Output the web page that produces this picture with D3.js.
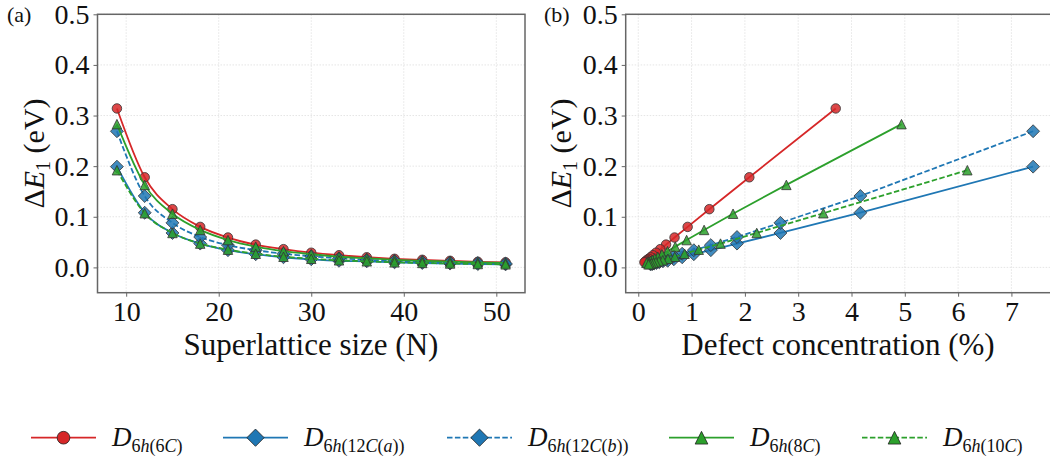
<!DOCTYPE html>
<html>
<head>
<meta charset="utf-8">
<script src="https://cdn.jsdelivr.net/npm/d3@7"></script>
<style>
  body { margin: 0; background: #fff; }
  svg { display: block; overflow: hidden; }
  svg text { font-family: "Liberation Serif", "Times New Roman", Times, "DejaVu Serif", serif; }
  .tick text { font-size: 28px; fill: #111; }
  .axis path, .axis line { stroke: #666; }
</style>
</head>
<body>
<div id="chart"></div>
<script>
// superlattice sizes
var sizes = [9, 12, 15, 18, 21, 24, 27, 30, 33, 36, 39, 42, 45, 48, 51];

// defect concentrations (%) per series
var conc6C  = [3.704, 2.083, 1.333, 0.926, 0.680, 0.521, 0.412, 0.333, 0.275, 0.231, 0.197, 0.170, 0.148, 0.130, 0.115];
var conc12C = [7.407, 4.167, 2.667, 1.852, 1.361, 1.042, 0.823, 0.667, 0.551, 0.463, 0.394, 0.340, 0.296, 0.260, 0.231];
var conc8C  = [4.938, 2.778, 1.778, 1.235, 0.907, 0.694, 0.549, 0.444, 0.367, 0.309, 0.263, 0.227, 0.198, 0.174, 0.154];
var conc10C = [6.173, 3.472, 2.222, 1.543, 1.134, 0.868, 0.686, 0.556, 0.459, 0.386, 0.329, 0.283, 0.247, 0.217, 0.192];

// Delta E1 (eV)
var dE6C   = [0.314, 0.178, 0.115, 0.080, 0.059, 0.045, 0.036, 0.029, 0.024, 0.020, 0.017, 0.015, 0.013, 0.011, 0.010];
var dE12Ca = [0.199, 0.108, 0.068, 0.047, 0.034, 0.026, 0.020, 0.016, 0.013, 0.012, 0.010, 0.0087, 0.0075, 0.0066, 0.0059];
var dE12Cb = [0.269, 0.141, 0.088, 0.060, 0.044, 0.034, 0.027, 0.022, 0.018, 0.015, 0.013, 0.011, 0.0097, 0.0086, 0.0076];
var dE8C   = [0.283, 0.163, 0.106, 0.074, 0.054, 0.041, 0.032, 0.026, 0.021, 0.018, 0.015, 0.013, 0.0115, 0.010, 0.009];
var dE10C  = [0.192, 0.107, 0.068, 0.047, 0.035, 0.027, 0.021, 0.017, 0.014, 0.012, 0.010, 0.0088, 0.0077, 0.0067, 0.006];

var xTicksA = [10, 20, 30, 40, 50];
var xTicksB = [0, 1, 2, 3, 4, 5, 6, 7];
var yTicks = [0, 0.1, 0.2, 0.3, 0.4, 0.5];

// label parts: [text, italic]
var series = [
  {sub: [["6", 0], ["h", 1], ["(6", 0], ["C", 1], [")", 0]], color: "#d62728", dash: null, mark: "o", conc: conc6C, dE: dE6C},
  {sub: [["6", 0], ["h", 1], ["(12", 0], ["C", 1], ["(", 0], ["a", 1], ["))", 0]], color: "#1f77b4", dash: null, mark: "D", conc: conc12C, dE: dE12Ca},
  {sub: [["6", 0], ["h", 1], ["(12", 0], ["C", 1], ["(", 0], ["b", 1], ["))", 0]], color: "#1f77b4", dash: "5.5,2.4", mark: "D", conc: conc12C, dE: dE12Cb},
  {sub: [["6", 0], ["h", 1], ["(8", 0], ["C", 1], [")", 0]], color: "#2ca02c", dash: null, mark: "^", conc: conc8C, dE: dE8C},
  {sub: [["6", 0], ["h", 1], ["(10", 0], ["C", 1], [")", 0]], color: "#2ca02c", dash: "5.5,2.4", mark: "^", conc: conc10C, dE: dE10C}
];

const width = 1050, height = 460;
const plotTop = 14.3, plotBottom = 292.7;

function markerPath(type, ms) {
  var h = ms / 2;
  if (type == "o") return d3.symbol(d3.symbolCircle, Math.PI * h * h)();
  if (type == "D") { var d = ms * 0.68; return `M0,${-d}L${d},0L0,${d}L${-d},0Z`; }
  return `M0,${-h}L${h},${h}L${-h},${h}Z`;
}

const svg = d3.select("#chart").append("svg")
  .attr("width", width)
  .attr("height", height);

var y = d3.scaleLinear().domain([-0.05, 0.5]).range([plotBottom, plotTop]);

function panel(opts) {
  var x = d3.scaleLinear().domain(opts.xDomain).range([opts.left, opts.right]);
  var g = svg.append("g");

  // grid
  g.append("g").selectAll("line").data(opts.xTicks).enter().append("line")
    .attr("x1", d => x(d)).attr("x2", d => x(d)).attr("y1", plotTop).attr("y2", plotBottom)
    .attr("stroke", "#dedede").attr("stroke-width", 0.8).attr("stroke-dasharray", "1.5,1.5");
  g.append("g").selectAll("line").data(yTicks).enter().append("line")
    .attr("x1", opts.left).attr("x2", opts.right).attr("y1", d => y(d)).attr("y2", d => y(d))
    .attr("stroke", "#dedede").attr("stroke-width", 0.8).attr("stroke-dasharray", "1.5,1.5");

  // lines + markers
  series.forEach((s) => {
    var pts = s.dE.map((v, i) => [opts.xVal(s, i), v]);
    var line = d3.line().x(d => x(d[0])).y(d => y(d[1])).curve(opts.curve);
    g.append("path")
      .attr("d", line(pts))
      .attr("fill", "none")
      .attr("stroke", s.color)
      .attr("stroke-width", 1.8)
      .attr("stroke-dasharray", s.dash);
    g.append("g").selectAll("path").data(pts).enter().append("path")
      .attr("d", markerPath(s.mark, 9.5))
      .attr("transform", d => `translate(${x(d[0])},${y(d[1])})`)
      .attr("fill", s.color)
      .attr("fill-opacity", 0.85)
      .attr("stroke", "#333")
      .attr("stroke-width", 0.8);
  });

  // frame
  g.append("rect")
    .attr("x", opts.left).attr("y", plotTop)
    .attr("width", opts.right - opts.left).attr("height", plotBottom - plotTop)
    .attr("fill", "none").attr("stroke", "#666").attr("stroke-width", 1.5);

  g.append("g").attr("class", "axis")
    .attr("transform", `translate(0,${plotBottom})`)
    .call(d3.axisBottom(x).tickValues(opts.xTicks).tickSize(4).tickPadding(4).tickFormat(d3.format("d")))
    .call(a => a.attr("font-family", null).select(".domain").remove());
  g.append("g").attr("class", "axis")
    .attr("transform", `translate(${opts.left},0)`)
    .call(d3.axisLeft(y).tickValues(yTicks).tickSize(4).tickPadding(4).tickFormat(d3.format(".1f")))
    .call(a => a.attr("font-family", null).select(".domain").remove());

  // x label
  g.append("text")
    .attr("x", opts.xLabelX).attr("y", 355)
    .attr("text-anchor", "middle")
    .style("font-size", "31px").attr("fill", "#111")
    .text(opts.xLabel);

  // y label
  var yl = g.append("text")
    .attr("transform", `translate(${opts.yLabelX},${(plotTop + plotBottom) / 2}) rotate(-90)`)
    .attr("text-anchor", "middle")
    .style("font-size", "30px").attr("fill", "#111");
  yl.append("tspan").text("Δ");
  yl.append("tspan").style("font-style", "italic").text("E");
  yl.append("tspan").attr("dy", 6).style("font-size", "20px").text("1");
  yl.append("tspan").attr("dy", -6).text(" (eV)");

  // panel letter
  g.append("text")
    .attr("x", opts.letterX).attr("y", 22)
    .style("font-size", "22px").attr("fill", "#111")
    .text(opts.letter);
}

panel({
  left: 97.5, right: 525, xDomain: [6.9, 53.1], xTicks: xTicksA,
  xVal: (s, i) => sizes[i], curve: d3.curveMonotoneX,
  xLabel: "Superlattice size (N)", xLabelX: 311, yLabelX: 44, letter: "(a)", letterX: 7
});
panel({
  left: 625.7, right: 1053, xDomain: [-0.236, 7.78], xTicks: xTicksB,
  xVal: (s, i) => s.conc[i], curve: d3.curveLinear,
  xLabel: "Defect concentration (%)", xLabelX: 838, yLabelX: 571, letter: "(b)", letterX: 544
});

// legend
var legendX = [31, 223, 447, 669, 862];
var leg = svg.append("g").attr("transform", "translate(0,437.7)");
series.forEach((s, i) => {
  var x0 = legendX[i];
  var item = leg.append("g").attr("transform", `translate(${x0},0)`);
  item.append("line")
    .attr("x1", 0).attr("x2", 65)
    .attr("stroke", s.color).attr("stroke-width", 1.8)
    .attr("stroke-dasharray", s.dash);
  item.append("path")
    .attr("d", markerPath(s.mark, 12.7))
    .attr("transform", "translate(32.5,0)")
    .attr("fill", s.color)
    .attr("stroke", "#222")
    .attr("stroke-width", 0.8);
  var t = item.append("text")
    .attr("x", 81).attr("y", 8)
    .attr("fill", "#111");
  t.append("tspan").style("font-size", "27px").style("font-style", "italic").text("D");
  s.sub.forEach((p, j) => {
    var ts = t.append("tspan").style("font-size", "18px")
      .style("font-style", p[1] ? "italic" : "normal").text(p[0]);
    if (j == 0) ts.attr("dy", 6);
  });
});
</script>
</body>
</html>
